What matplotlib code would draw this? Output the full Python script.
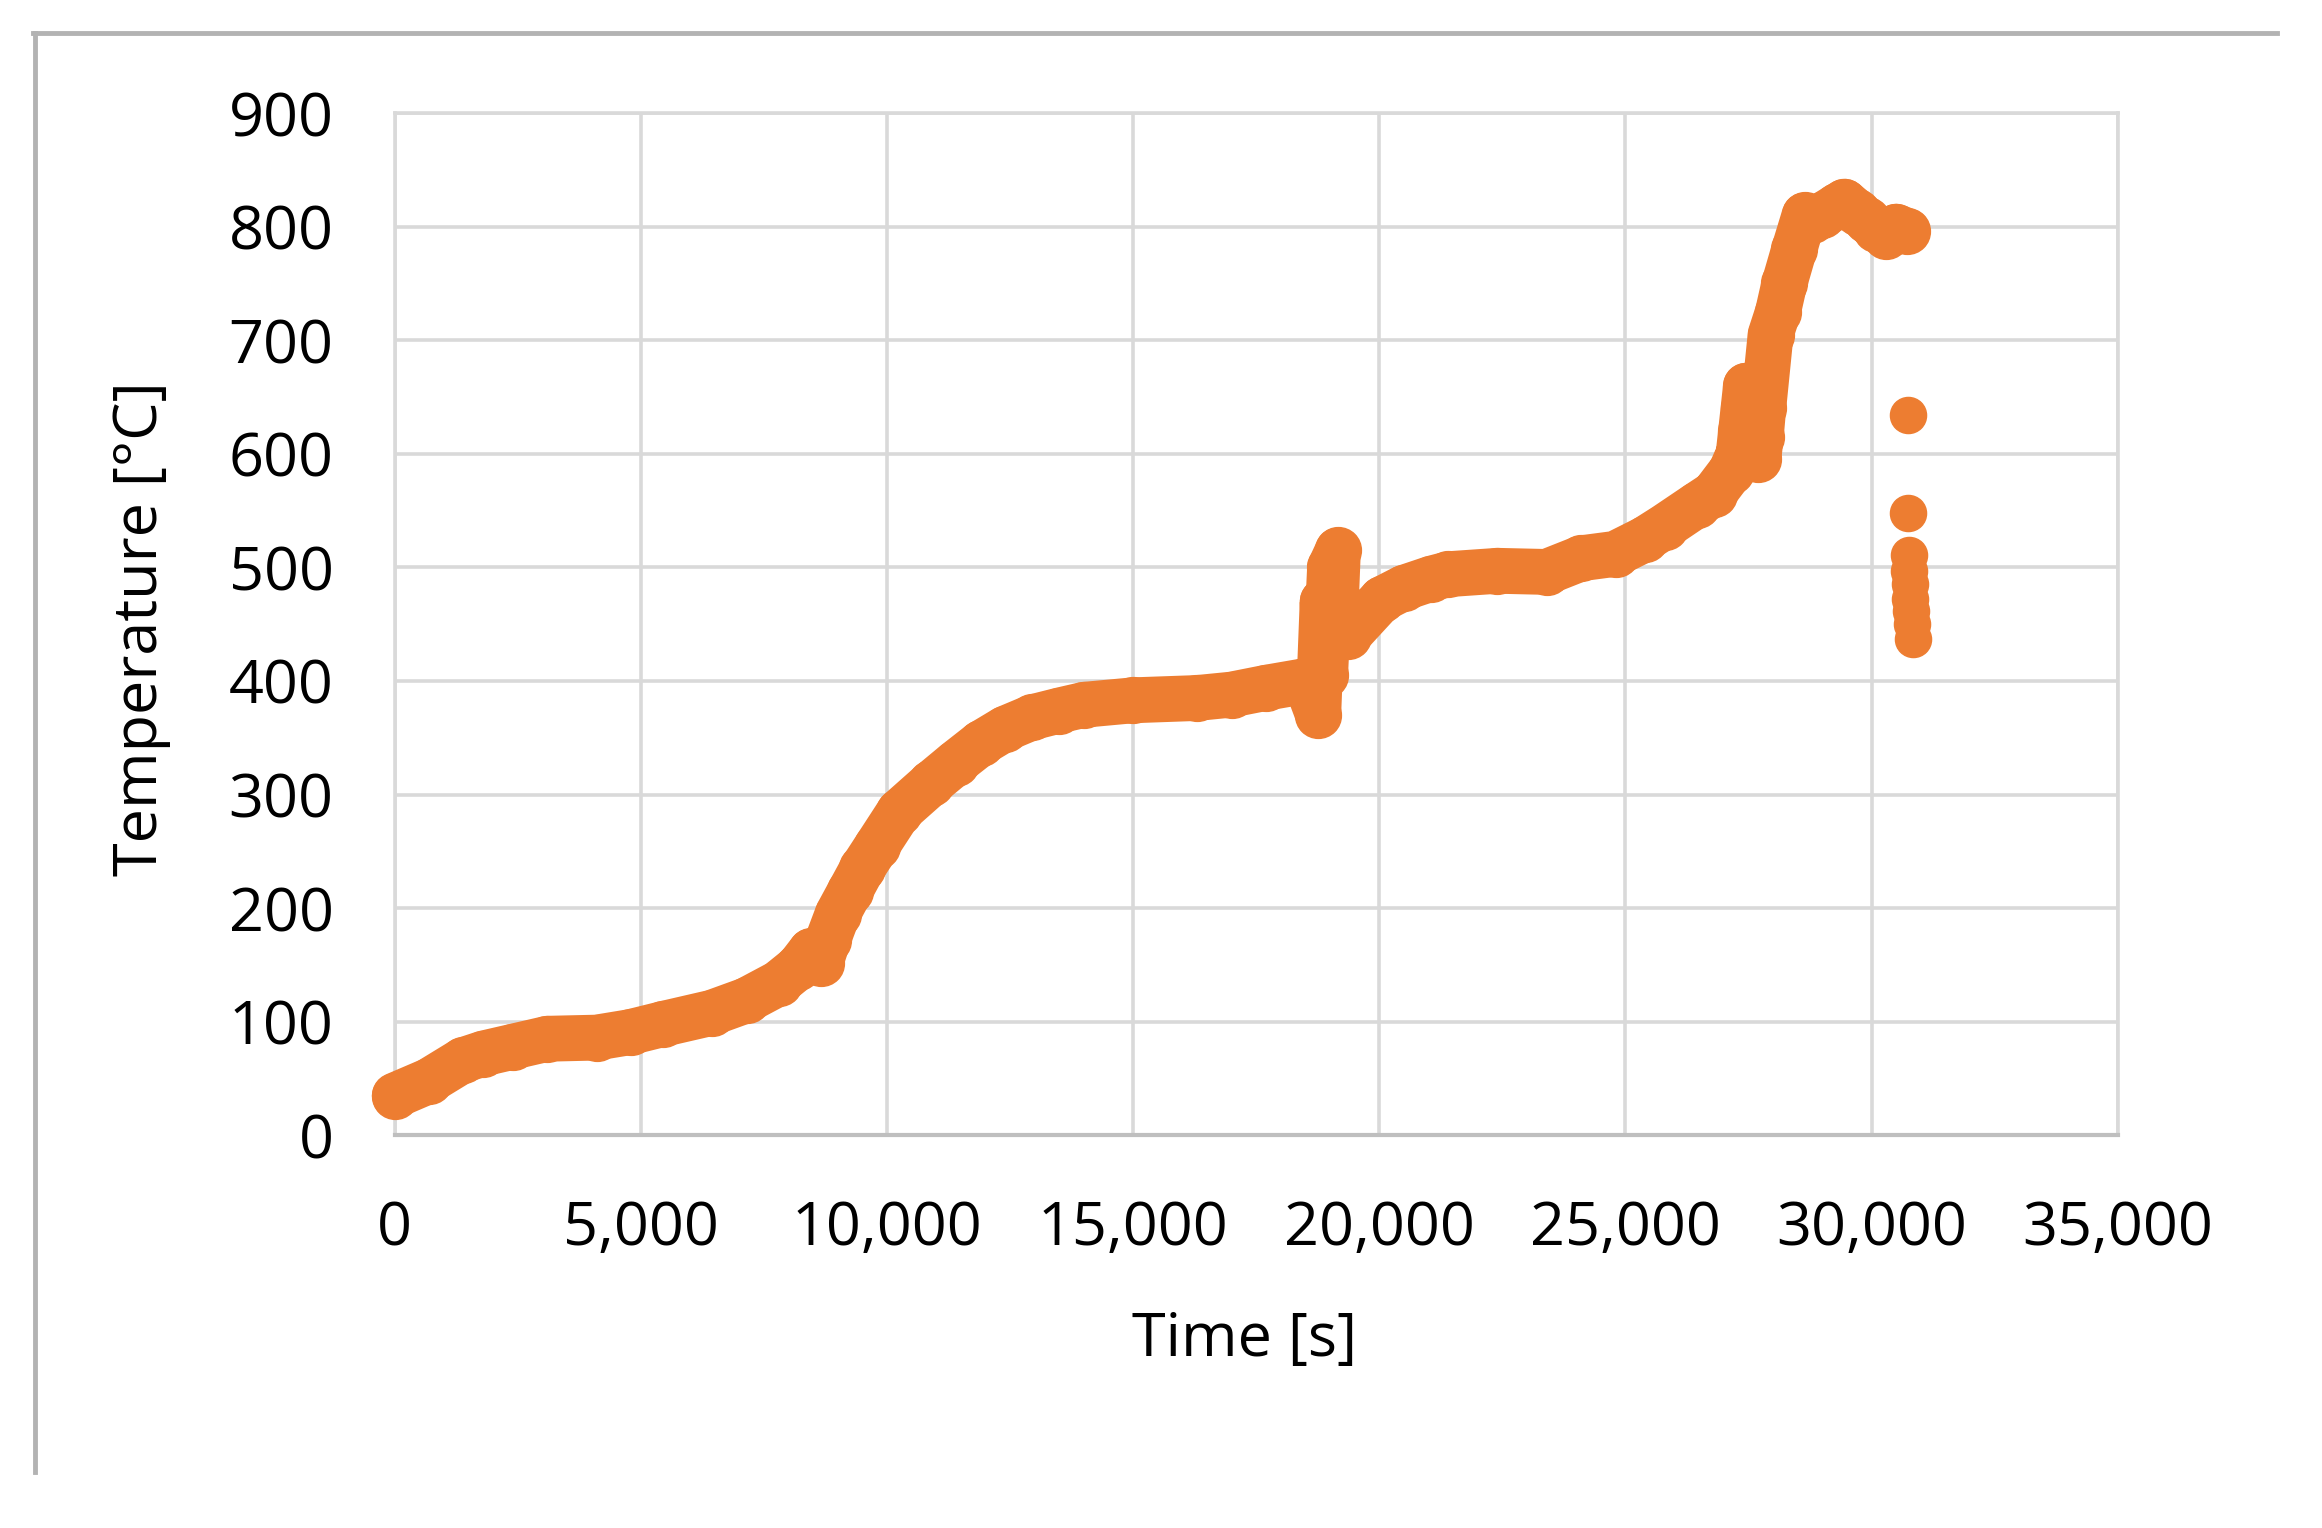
import matplotlib.pyplot as plt
from matplotlib.lines import Line2D
from matplotlib.ticker import FuncFormatter, MultipleLocator

plt.rcParams['font.family'] = ['Open Sans', 'DejaVu Sans']

# main temperature trace
time_s = [0, 700, 1380, 1800, 2400, 3100, 4100, 4800, 5450, 6450, 7150, 7800,
          8200, 8450, 8650, 8800, 9000, 9250, 9500, 9800, 10250, 10900, 11400,
          11900, 12400, 12950, 13500, 14000, 15000, 16300, 17000, 17700, 18500,
          18760, 18850, 18900, 19000, 19160, 19100, 19250, 19370, 20050, 20500,
          21050, 21400, 22400, 23400, 24100, 24800, 25400, 25800, 26450, 26800,
          27150, 27300, 27350, 27400, 27450, 27500, 27550, 27650, 27700, 27750,
          27800, 27950, 28100, 28230, 28430, 28640, 28800, 29000, 29300, 29450,
          29700, 29900, 30100, 30300, 30500, 30730]
temp_c = [35, 48, 66, 72, 78, 85, 86, 91, 98, 108, 119, 134,
          148, 162, 152, 172, 195, 215, 235, 255, 285, 310, 328,
          345, 358, 368, 374, 379, 383, 385, 388, 394, 400,
          370, 470, 405, 500, 515, 450, 440, 440, 472, 482,
          490, 494, 497, 496, 508, 512, 525, 536, 555, 565,
          585, 600, 620, 640, 660, 645, 600, 630, 595, 615,
          640, 705, 725, 750, 780, 810, 806, 810, 818, 822,
          813, 806, 798, 792, 800, 796]

# scattered readings after the drop at the end
tail_time = [30750, 30750, 30760, 30770, 30780, 30790, 30800, 30820, 30840]
tail_temp = [634, 548, 511, 497, 485, 472, 462, 450, 437]

x_ticks = [0, 5000, 10000, 15000, 20000, 25000, 30000, 35000]

orange = '#ED7D31'
grid = '#d9d9d9'

fig = plt.figure(figsize=(23.22, 15.28), dpi=100)
ax = fig.add_axes([0.170, 0.257, 0.742, 0.669])

ax.plot(time_s, temp_c, color=orange, lw=33, marker='o', ms=33,
        solid_capstyle='round', solid_joinstyle='round', clip_on=False, zorder=3)
ax.plot(tail_time[2:], tail_temp[2:], color=orange, lw=0, marker='o', ms=26,
        clip_on=False, zorder=3)
ax.plot(tail_time[:2], tail_temp[:2], color=orange, lw=0, marker='o', ms=26,
        clip_on=False, zorder=3)

ax.set_xlim(0, 35000)
ax.set_ylim(0, 900)
ax.set_xticks(x_ticks)
ax.yaxis.set_major_locator(MultipleLocator(100))
ax.xaxis.set_major_formatter(FuncFormatter(lambda v, p: f'{int(v):,}'))

ax.grid(True, color=grid, lw=2.6, zorder=0)
ax.set_axisbelow(True)
for side in ['left', 'right', 'top']:
    ax.spines[side].set_color(grid)
    ax.spines[side].set_linewidth(2.6)
ax.spines['bottom'].set_color('#bfbfbf')
ax.spines['bottom'].set_linewidth(3)

ax.tick_params(axis='both', length=0, labelsize=44, colors='black')
ax.tick_params(axis='x', pad=46)
ax.tick_params(axis='y', pad=44)

ax.set_xlabel('Time [s]', fontsize=44, va='center')
ax.xaxis.set_label_coords(0.493, -0.2006)
ax.set_ylabel('Temperature [°C]', fontsize=44, va='center', ha='center')
ax.yaxis.set_label_coords(-0.1474, 0.496)

# outer chart border (only top and left edges visible)
fig.add_artist(Line2D([33 / 2322, 2277 / 2322], [1 - 33 / 1528, 1 - 33 / 1528],
                      color='#b3b3b3', lw=3.5, transform=fig.transFigure))
fig.add_artist(Line2D([35 / 2322, 35 / 2322], [1 - 33 / 1528, 1 - 1472 / 1528],
                      color='#b3b3b3', lw=3.5, transform=fig.transFigure))

fig.savefig('out.png', dpi=100, facecolor='white')
